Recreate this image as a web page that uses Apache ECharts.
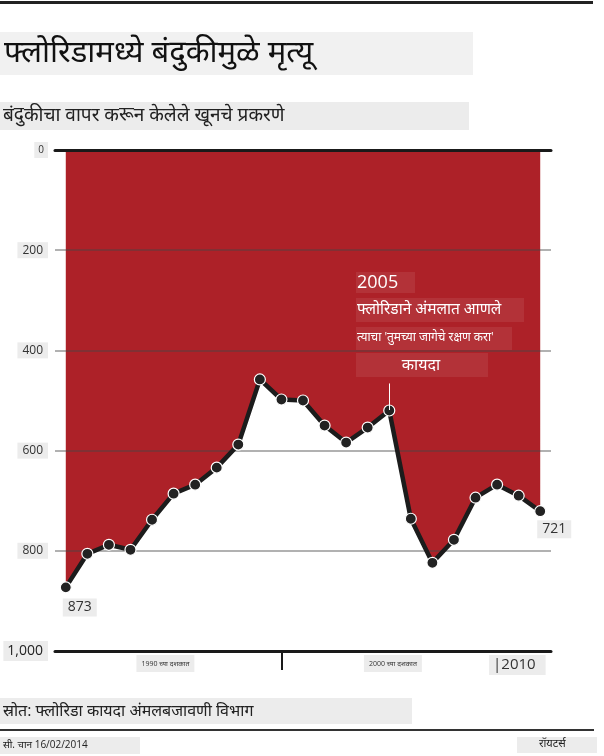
<!DOCTYPE html>
<html>
  <head>
    <meta charset="UTF-8" />
    <title>फ्लोरिडामध्ये बंदुकीमुळे मृत्यू</title>
    <style>
      html, body { margin: 0; padding: 0; background: #fff; }
      #main { width: 604px; height: 756px; }
    </style>
  </head>
  <body>
    <div id="main"></div>
    <script src="https://cdn.jsdelivr.net/npm/echarts@6/dist/echarts.min.js"></script>
    <script>
      // gun murders per year
      const years = [1990, 1991, 1992, 1993, 1994, 1995, 1996, 1997, 1998, 1999, 2000, 2001,
        2002, 2003, 2004, 2005, 2006, 2007, 2008, 2009, 2010, 2011, 2012]
      const deaths = [873, 806, 788, 798, 738, 686, 668, 634, 588, 458, 498, 500,
        550, 584, 554, 520, 736, 824, 778, 694, 668, 690, 721]
      const yTicks = [0, 200, 400, 600, 800, 1000]
      const decadeTicks = [2000]
      const decadeLabelPos = [1994.62, 2005.17, 2010.94]
      const decadeLabels = ['1990 च्या दशकात', '2000 च्या दशकात', '|2010']
      const lawYear = 2005

      const font = "'Open Sans', 'Noto Sans', sans-serif"
      const red = '#ad2128'

      const points = years.map((y, i) => {
        const item = { value: [y, deaths[i]] }
        if (i === 0) item.label = { show: true, offset: [14, 5] }
        if (i === years.length - 1) item.label = { show: true, offset: [14, 3] }
        return item
      })

      const chart = echarts.init(document.getElementById('main'))

      const option = {
        animation: false,
        grid: { left: 55, right: 53, top: 150, bottom: 105 },
        xAxis: [
          {
            type: 'value',
            min: 1989.5,
            max: 2012.5,
            position: 'bottom',
            z: 5,
            splitLine: { show: false },
            axisLine: { show: true, onZero: false, lineStyle: { color: '#1a1a1a', width: 3 } },
            axisTick: {
              show: true,
              customValues: decadeTicks,
              length: 19,
              lineStyle: { color: '#1a1a1a', width: 2 }
            },
            axisLabel: {
              customValues: decadeLabelPos,
              margin: 4,
              formatter: (v) => {
                const i = decadeLabelPos.indexOf(v)
                if (i < 0) return ''
                return i === 2 ? '{big|' + decadeLabels[i] + '}' : '{small|' + decadeLabels[i] + '}'
              },
              rich: {
                small: {
                  fontSize: 7, color: '#333', fontFamily: font,
                  backgroundColor: '#ececec', padding: [5, 5, 5, 5]
                },
                big: {
                  fontSize: 15, color: '#333', fontFamily: font,
                  backgroundColor: '#ececec', padding: [2, 10, 3, 4]
                }
              }
            }
          },
          {
            type: 'value',
            min: 1989.5,
            max: 2012.5,
            position: 'top',
            z: 5,
            splitLine: { show: false },
            axisLine: { show: true, onZero: false, lineStyle: { color: '#1a1a1a', width: 3 } },
            axisTick: { show: false },
            axisLabel: { show: false }
          }
        ],
        yAxis: {
          type: 'value',
          inverse: true,
          min: 0,
          max: 1000,
          interval: 200,
          z: 2,
          axisLine: { show: false },
          axisTick: { show: false },
          splitLine: { show: true, lineStyle: { color: 'rgba(70,70,70,0.42)', width: 2 } },
          axisLabel: {
            margin: 7,
            formatter: (v) => {
              if (v === 0) return '{s|0}'
              if (v === 1000) return '{b|1,000}'
              return '{m|' + v + '}'
            },
            rich: {
              s: { fontSize: 10, color: '#333', fontFamily: font, backgroundColor: '#ececec', padding: [3, 4, 3, 4] },
              m: { fontSize: 12, color: '#333', fontFamily: font, backgroundColor: '#ececec', padding: [2, 5, 2, 5] },
              b: { fontSize: 14, color: '#222', fontFamily: font, backgroundColor: '#ececec', padding: [3, 5, 3, 4] }
            }
          }
        },
        series: [
          {
            name: 'area',
            type: 'line',
            z: 1,
            data: years.map((y, i) => [y, deaths[i]]),
            symbol: 'none',
            lineStyle: { width: 0 },
            areaStyle: { color: red, opacity: 1, origin: 'start' },
            silent: true
          },
          {
            name: 'खून',
            type: 'line',
            z: 3,
            data: points,
            symbol: 'circle',
            symbolSize: 11,
            lineStyle: { color: '#1c1c1c', width: 4.5 },
            itemStyle: { color: '#222', borderColor: '#fff', borderWidth: 1.2 },
            label: {
              show: false,
              position: 'bottom',
              distance: 0,
              formatter: (p) => p.value[1],
              fontSize: 14,
              color: '#333',
              fontFamily: font,
              backgroundColor: '#ececec',
              padding: [2, 5, 2, 5]
            },
            markLine: {
              silent: true,
              symbol: 'none',
              label: { show: false },
              lineStyle: { color: '#fff', width: 1, type: 'solid' },
              data: [[{ coord: [lawYear, 466] }, { coord: [lawYear, 519] }]]
            }
          }
        ],
        graphic: [
          { type: 'rect', shape: { x: 0, y: 1, width: 593, height: 3 }, style: { fill: '#222' } },
          { type: 'rect', shape: { x: 0, y: 32, width: 473, height: 43 }, style: { fill: '#f1f1f1' } },
          {
            type: 'text', x: 4, y: 53,
            style: { text: 'फ्लोरिडामध्ये बंदुकीमुळे मृत्यू', fontSize: 31, fill: '#111', verticalAlign: 'middle', fontFamily: font }
          },
          { type: 'rect', shape: { x: 0, y: 102, width: 469, height: 28 }, style: { fill: '#ececec' } },
          {
            type: 'text', x: 3, y: 116,
            style: { text: 'बंदुकीचा वापर करून केलेले खूनचे प्रकरणे', fontSize: 19, fill: '#222', verticalAlign: 'middle', fontFamily: font }
          },
          // annotation for the 2005 law
          { type: 'rect', z: 10, shape: { x: 356, y: 272, width: 59, height: 21 }, style: { fill: 'rgba(255,255,255,0.08)' } },
          {
            type: 'text', z: 11, x: 357, y: 283,
            style: { text: '2005', fontSize: 18, fill: '#fff', verticalAlign: 'middle', fontFamily: font }
          },
          { type: 'rect', z: 10, shape: { x: 356, y: 298, width: 168, height: 24 }, style: { fill: 'rgba(255,255,255,0.08)' } },
          {
            type: 'text', z: 11, x: 357, y: 310,
            style: { text: 'फ्लोरिडाने अंमलात आणले', fontSize: 15.5, fill: '#fff', verticalAlign: 'middle', fontFamily: font }
          },
          { type: 'rect', z: 10, shape: { x: 356, y: 327, width: 156, height: 23 }, style: { fill: 'rgba(255,255,255,0.08)' } },
          {
            type: 'text', z: 11, x: 357, y: 338,
            style: { text: "त्याचा 'तुमच्या जागेचे रक्षण करा'", fontSize: 12, fill: '#fff', verticalAlign: 'middle', fontFamily: font }
          },
          { type: 'rect', z: 10, shape: { x: 356, y: 353, width: 132, height: 24 }, style: { fill: 'rgba(255,255,255,0.08)' } },
          {
            type: 'text', z: 11, x: 421, y: 365,
            style: { text: 'कायदा', fontSize: 16, fill: '#fff', align: 'center', verticalAlign: 'middle', fontFamily: font }
          },
          // footer
          { type: 'rect', shape: { x: 0, y: 698, width: 412, height: 26 }, style: { fill: '#ececec' } },
          {
            type: 'text', x: 3, y: 711,
            style: { text: 'स्रोत: फ्लोरिडा कायदा अंमलबजावणी विभाग', fontSize: 16, fill: '#222', verticalAlign: 'middle', fontFamily: font }
          },
          { type: 'rect', shape: { x: 0, y: 729, width: 594, height: 2 }, style: { fill: '#333' } },
          { type: 'rect', shape: { x: 0, y: 737, width: 140, height: 17 }, style: { fill: '#ececec' } },
          {
            type: 'text', x: 3, y: 745,
            style: { text: 'सी. चान 16/02/2014', fontSize: 10, fill: '#222', verticalAlign: 'middle', fontFamily: font }
          },
          { type: 'rect', shape: { x: 517, y: 737, width: 80, height: 16 }, style: { fill: '#ececec' } },
          {
            type: 'text', x: 539, y: 744,
            style: { text: 'रॉयटर्स', fontSize: 11, fill: '#222', verticalAlign: 'middle', fontFamily: font }
          }
        ]
      }

      chart.setOption(option)
    </script>
  </body>
</html>
